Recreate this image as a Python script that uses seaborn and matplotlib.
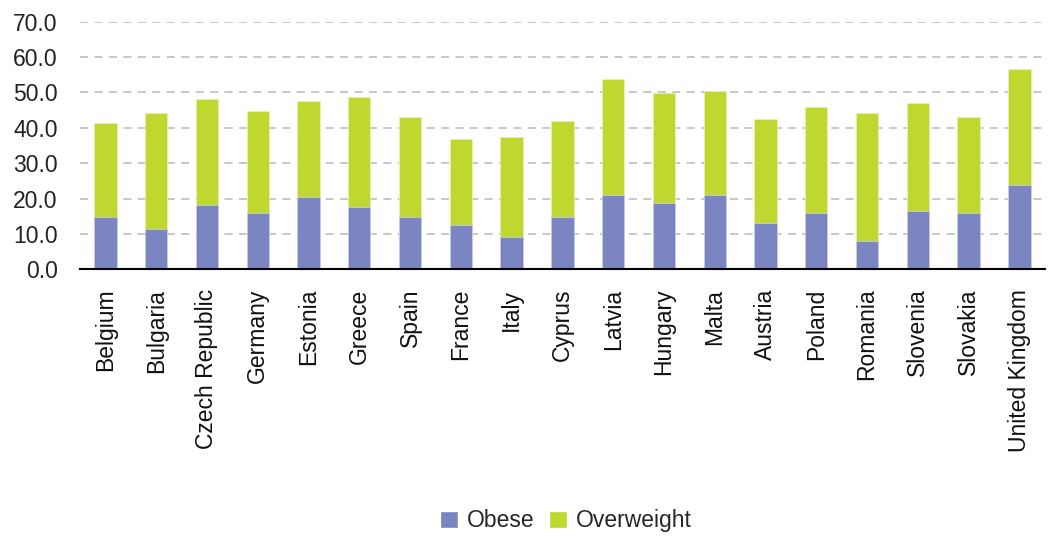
import numpy as np
import pandas as pd
import matplotlib
matplotlib.use("Agg")
import matplotlib.pyplot as plt
from matplotlib.patches import Patch
import seaborn as sns

countries = ["Belgium", "Bulgaria", "Czech Republic", "Germany", "Estonia", "Greece",
             "Spain", "France", "Italy", "Cyprus", "Latvia", "Hungary", "Malta",
             "Austria", "Poland", "Romania", "Slovenia", "Slovakia", "United Kingdom"]
obese = [14.7, 11.3, 18.1, 15.8, 20.4, 17.5, 14.7, 12.4, 9.0, 14.7,
         20.9, 18.7, 20.9, 13.0, 15.8, 7.9, 16.4, 15.8, 23.7]
overweight = [26.6, 32.8, 30.0, 29.0, 27.2, 31.1, 28.3, 24.4, 28.3, 27.1,
              32.8, 31.1, 29.4, 29.4, 30.0, 36.2, 30.5, 27.2, 32.8]
yticks = [0, 10, 20, 30, 40, 50, 60, 70]

c_obese = "#7b85c1"
c_over = "#bfd72f"

df = pd.DataFrame({"country": countries, "obese": obese, "overweight": overweight})
df["total"] = df["obese"] + df["overweight"]

sns.set_style("white")
plt.rcParams["font.family"] = ["Liberation Sans", "DejaVu Sans"]

fig = plt.figure(figsize=(10.5, 5.36), dpi=100)
ax = fig.add_axes([0.0762, 0.4976, 0.9188, 0.4619])

# stacked bars: total first, obese drawn over it
sns.barplot(data=df, x="country", y="total", color=c_over, width=0.44,
            saturation=1, ax=ax, zorder=3, edgecolor="#e8f0b0", linewidth=0.6)
sns.barplot(data=df, x="country", y="obese", color=c_obese, width=0.44,
            saturation=1, ax=ax, zorder=4, edgecolor="#c8cce8", linewidth=0.6)

ax.set_xlim(-0.5, len(countries) - 0.5)
ax.set_ylim(0, 70)
ax.set_yticks(yticks)
ax.set_yticklabels([f"{v:.1f}" for v in yticks])
ax.set_xlabel("")
ax.set_ylabel("")

for y in yticks[1:]:
    ax.axhline(y, color="#c4c4c4", lw=1.3, ls=(0, (4.5, 3.5)), zorder=1)

for s in ["top", "right", "left"]:
    ax.spines[s].set_visible(False)
ax.spines["bottom"].set_color("black")
ax.spines["bottom"].set_linewidth(1.5)
ax.spines["bottom"].set_zorder(5)

ax.set_xticks(np.arange(len(countries)))
ax.set_xticklabels(countries, rotation=90, va="top", ha="center")
ax.set_xticks(np.arange(-0.5, len(countries)), minor=True)
ax.tick_params(axis="x", which="major", length=0, pad=14, labelsize=16.5)
ax.tick_params(axis="x", which="minor", length=6, width=1.5, color="black", direction="out")
ax.tick_params(axis="y", length=0, pad=16, labelsize=16.5, labelcolor="#222222")
ax.tick_params(axis="x", labelcolor="#111111")

handles = [Patch(facecolor=c_obese, label="Obese"), Patch(facecolor=c_over, label="Overweight")]
fig.legend(handles=handles, loc="center", bbox_to_anchor=(0.539, 0.028), ncol=2,
           frameon=False, fontsize=16.5, handlelength=0.8, handleheight=0.8,
           handletextpad=0.4, columnspacing=0.6)

fig.savefig("out.png", dpi=100)
